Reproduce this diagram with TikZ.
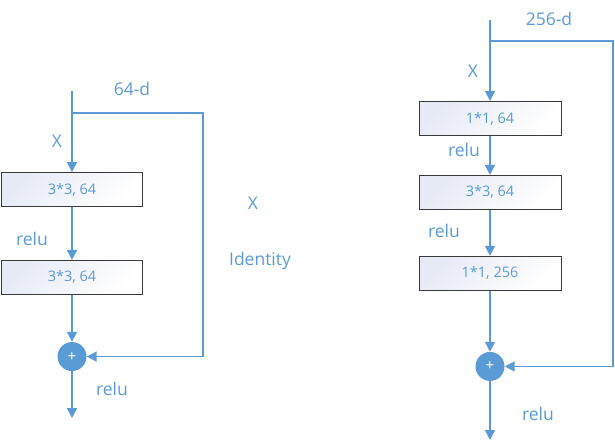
\documentclass[tikz,border=0pt]{standalone}
\usepackage{fontspec}
\setmainfont{Open Sans}
\usetikzlibrary{positioning,arrows.meta}
\definecolor{lineblue}{HTML}{5B9BD5}
\definecolor{boxfill}{HTML}{E6EAF5}
\definecolor{boxedge}{HTML}{3A3A3A}

\begin{document}
\begin{tikzpicture}[x=1pt,y=-1pt,
  layer/.style={draw=boxedge, line width=0.9pt,
                left color=boxfill, right color=white, shading angle=45,
                minimum width=141pt, minimum height=34pt, inner sep=0pt,
                text=lineblue, font=\fontsize{14.5}{17}\selectfont},
  addop/.style={circle, fill=lineblue, minimum size=29pt, inner sep=0pt,
                text=white, font=\fontsize{15}{17}\selectfont},
  wire/.style={draw=lineblue, line width=1.6pt},
  flow/.style={wire, -{Triangle[length=10pt,width=10pt]}},
  tag/.style={text=lineblue, font=\fontsize{17.5}{20}\selectfont}]
\useasboundingbox (0,0) rectangle (615,442);

% left block
\coordinate (Lin) at (72,91);
\coordinate (Lsplit) at (72,113);
\coordinate (Lcorner) at (203,113);
\node[layer] (L1) at (72,189.5) {3*3, 64};
\node[layer, below=53pt of L1] (L2) {3*3, 64};
\node[addop, below=47pt of L2] (Ladd) {+};
\coordinate (Lout) at (72,418);

\node[tag] (Ldim) at (132,89) {64-d};
\node[tag] (Lx) at (57,141) {X};
\node[tag] (Lrelu1) at (32,239) {relu};
\node[tag] (Lrelu2) at (112,389) {relu};

\draw[wire] (Lin) -- (Lsplit);
\draw[flow] (Lsplit) -- (L1.north);
\draw[flow] (L1.south) -- (L2.north);
\draw[flow] (L2.south) -- (Ladd.north);
\draw[flow] (Ladd.south) -- (Lout);
\draw[flow] (Lsplit) -- (Lcorner) |- (Ladd.east);

% middle labels
\node[tag] (Mx) at (253,203) {X};
\node[tag] (Mid) at (260,261) {Identity};

% right block
\coordinate (Rin) at (490,20);
\coordinate (Rsplit) at (490,41);
\coordinate (Rcorner) at (613,41);
\node[layer, minimum width=142pt] (R1) at (490,118.5) {1*1, 64};
\node[layer, minimum width=142pt, below=39pt of R1] (R2) {3*3, 64};
\node[layer, minimum width=142pt, below=46pt of R2] (R3) {1*1, 256};
\node[addop, below=61pt of R3] (Radd) {+};
\coordinate (Rout) at (490,440);

\node[tag] (Rdim) at (549,19) {256-d};
\node[tag] (Rx) at (473,71) {X};
\node[tag] (Rrelu1) at (464,150) {relu};
\node[tag] (Rrelu2) at (444,231) {relu};
\node[tag] (Rrelu3) at (538,414) {relu};

\draw[wire] (Rin) -- (Rsplit);
\draw[flow] (Rsplit) -- (R1.north);
\draw[flow] (R1.south) -- (R2.north);
\draw[flow] (R2.south) -- (R3.north);
\draw[flow] (R3.south) -- (Radd.north);
\draw[flow] (Radd.south) -- (Rout);
\draw[flow] (Rsplit) -- (Rcorner) |- (Radd.east);
\end{tikzpicture}
\end{document}
